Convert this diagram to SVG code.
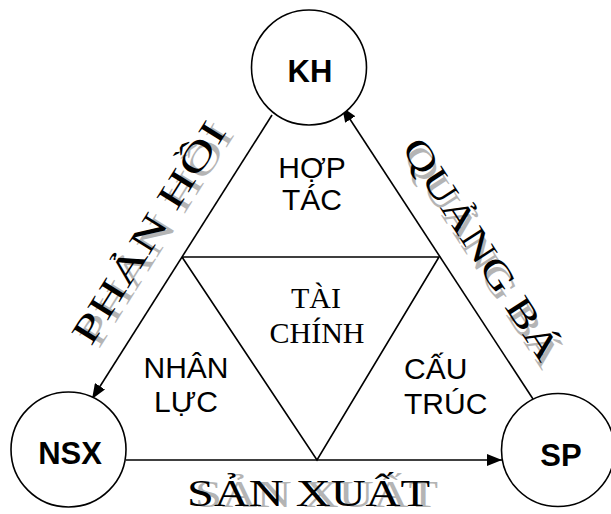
<svg xmlns="http://www.w3.org/2000/svg" width="611" height="514" viewBox="0 0 611 514">
  <style>
    .node circle { fill: #ffffff; stroke: #000000; stroke-width: 1.6; }
    .node text { font-family: "Liberation Sans", Arial, sans-serif; font-weight: bold; font-size: 31px; text-anchor: middle; fill: #000; }
    .edge { stroke: #000000; stroke-width: 1.6; fill: none; }
    .lbl { font-family: "Liberation Sans", Arial, sans-serif; font-size: 30px; fill: #000; }
    .serif { font-family: "Liberation Serif", "Times New Roman", serif; font-size: 30px; fill: #000; }
    .art { font-family: "Liberation Serif", "Times New Roman", serif; font-size: 37px; }
    .shadow { fill: #b4b4b4; }
    .ink { fill: #000000; }
  </style>
  <defs>
    <marker id="arrow" markerUnits="userSpaceOnUse" markerWidth="16" markerHeight="12" refX="15" refY="6" orient="auto">
      <path d="M0,0 L15,6 L0,12 z" fill="#000"/>
    </marker>
  </defs>

  <rect x="0" y="0" width="611" height="514" fill="#ffffff"/>

  <!-- connectors: outer triangle and inner triangle -->
  <g id="connectors">
    <line class="edge" x1="272" y1="115" x2="92" y2="399" marker-end="url(#arrow)"/>
    <line class="edge" x1="533" y1="399" x2="342" y2="107" marker-end="url(#arrow)"/>
    <line class="edge" x1="126" y1="460" x2="502" y2="460" marker-end="url(#arrow)"/>
    <polyline class="edge" points="182,257 439,257 317,460 182,257"/>
  </g>

  <!-- nodes -->
  <g id="node-kh" class="node">
    <circle cx="309" cy="67.5" r="57.5"/>
    <text x="310" y="82">KH</text>
  </g>
  <g id="node-nsx" class="node">
    <circle cx="68.5" cy="449.5" r="57.5"/>
    <text x="70" y="464">NSX</text>
  </g>
  <g id="node-sp" class="node">
    <circle cx="558" cy="450" r="56.5"/>
    <text x="561" y="466">SP</text>
  </g>

  <!-- region labels -->
  <g id="label-hop-tac">
    <text class="lbl" x="312" y="178" text-anchor="middle">HỢP</text>
    <text class="lbl" x="312" y="210" text-anchor="middle">TÁC</text>
  </g>
  <g id="label-tai-chinh">
    <text class="serif" x="316" y="308" text-anchor="middle">TÀI</text>
    <text class="serif" x="317" y="343" text-anchor="middle">CHÍNH</text>
  </g>
  <g id="label-nhan-luc">
    <text class="lbl" x="186" y="378" text-anchor="middle">NHÂN</text>
    <text class="lbl" x="186" y="412" text-anchor="middle">LỰC</text>
  </g>
  <g id="label-cau-truc">
    <text class="lbl" x="404" y="379">CẤU</text>
    <text class="lbl" x="404" y="414">TRÚC</text>
  </g>

  <!-- edge labels with drop shadows -->
  <g id="label-phan-hoi" transform="translate(91,347) rotate(-57.7)">
    <text class="art shadow" x="2" y="8" textLength="255" lengthAdjust="spacingAndGlyphs">PHẢN HỒI</text>
    <text class="art ink" x="0" y="0" textLength="255" lengthAdjust="spacingAndGlyphs">PHẢN HỒI</text>
  </g>
  <g id="label-quang-ba" transform="translate(401,148) rotate(57)">
    <text class="art shadow" x="7" y="3" textLength="257" lengthAdjust="spacingAndGlyphs">QUẢNG BÁ</text>
    <text class="art ink" x="0" y="0" textLength="257" lengthAdjust="spacingAndGlyphs">QUẢNG BÁ</text>
  </g>
  <g id="label-san-xuat">
    <text class="art shadow" x="195" y="507" textLength="243" lengthAdjust="spacingAndGlyphs">SẢN XUẤT</text>
    <text class="art ink" x="187" y="506" textLength="243" lengthAdjust="spacingAndGlyphs">SẢN XUẤT</text>
  </g>
</svg>
